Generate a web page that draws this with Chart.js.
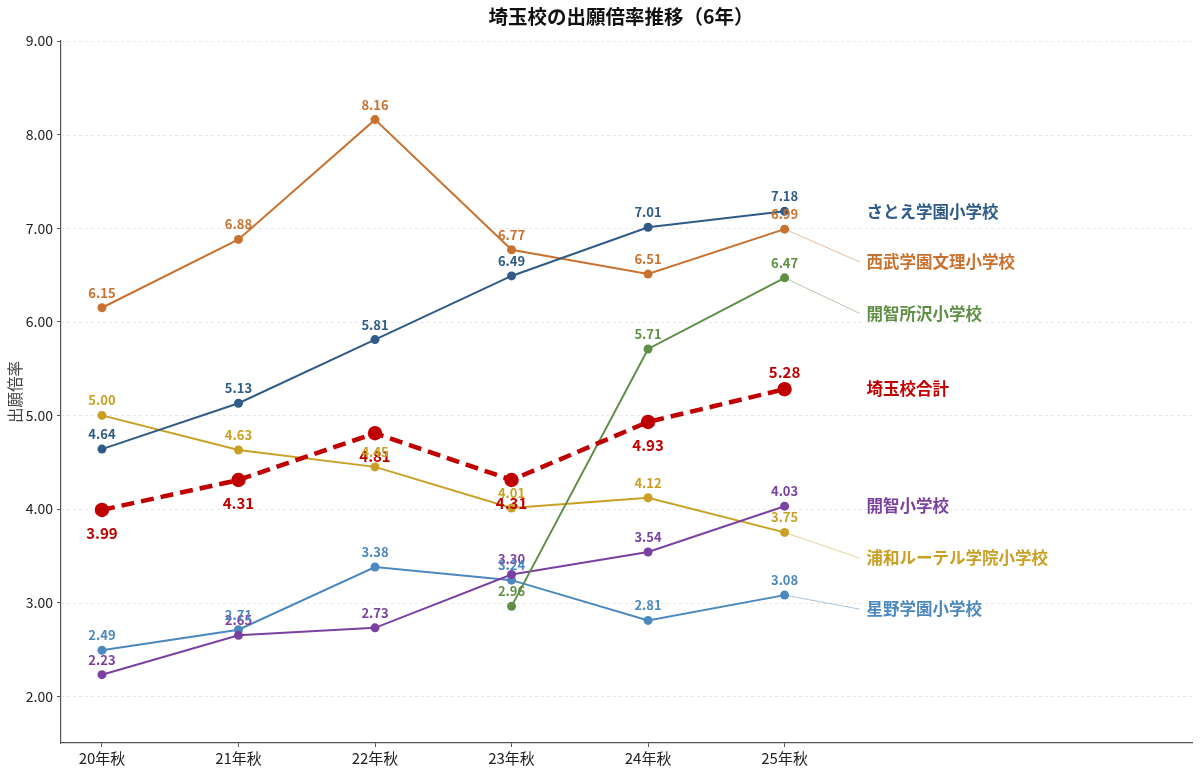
<!DOCTYPE html>
<html><head><meta charset="utf-8">
<script src="https://cdn.jsdelivr.net/npm/chart.js@4.4.1/dist/chart.umd.min.js"></script>
<style>html,body{margin:0;padding:0;background:#fff}#wrap{width:1200px;height:774px;position:relative}</style>
</head><body><div id="wrap"><canvas id="c"></canvas></div>
<script>
// ---- data ----
const categories = ['20年秋','21年秋','22年秋','23年秋','24年秋','25年秋'];
const seriesNames = ['さとえ学園小学校','西武学園文理小学校','開智所沢小学校','埼玉校合計','開智小学校','浦和ルーテル学院小学校','星野学園小学校'];
const satoe = [4.64,5.13,5.81,6.49,7.01,7.18];
const seibu = [6.15,6.88,8.16,6.77,6.51,6.99];
const kaichiTokorozawa = [null,null,null,2.96,5.71,6.47];
const saitamaTotal = [3.99,4.31,4.81,4.31,4.93,5.28];
const kaichi = [2.23,2.65,2.73,3.30,3.54,4.03];
const urawa = [5.00,4.63,4.45,4.01,4.12,3.75];
const hoshino = [2.49,2.71,3.38,3.24,2.81,3.08];
const yTickValues = [2,3,4,5,6,7,8,9];
const chartTitle = '埼玉校の出願倍率推移（6年）';
const yAxisTitle = '出願倍率';

// ---- layout / style (not data) ----
const seriesValues = [satoe, seibu, kaichiTokorozawa, saitamaTotal, kaichi, urawa, hoshino];
const colors = ['#2f5b86','#c9722f','#5e8f45','#c00000','#7b41a1','#c9a024','#4a88bd'];
const endLabelY = [7.18, 6.64, 6.09, 5.28, 4.04, 3.475, 2.93]; // label anchor (value units)
const needsConnector = [false,true,true,false,false,true,true];
const FONT = '"Noto Sans CJK JP","Noto Sans",sans-serif';
const LABEL_X = 5.6, CONNECT_X = 5.55;

const datasets = [];
seriesValues.forEach((vals, i) => {
  const isTotal = i === 3;
  datasets.push({
    label: seriesNames[i],
    data: vals.map((v, k) => ({x: k, y: v})),
    borderColor: colors[i],
    backgroundColor: colors[i],
    pointBackgroundColor: colors[i],
    pointBorderColor: colors[i],
    borderWidth: isTotal ? 4.5 : 2,
    borderDash: isTotal ? [13, 7] : [],
    pointRadius: isTotal ? 7.2 : 4.5,
    pointBorderWidth: 0,
    tension: 0,
    order: isTotal ? 0 : 2,
    _series: i
  });
});
seriesValues.forEach((vals, i) => {
  if (!needsConnector[i]) return;
  const last = vals[vals.length - 1];
  datasets.push({
    label: seriesNames[i] + '_conn',
    data: [{x: vals.length - 1, y: last}, {x: CONNECT_X, y: endLabelY[i]}],
    borderColor: colors[i] + '99',
    borderWidth: 0.8,
    pointRadius: 0,
    order: 3,
    _connector: true
  });
});

const gridPlugin = {
  id: 'dashGrid',
  beforeDatasetsDraw(chart) {
    const {ctx, chartArea, scales} = chart;
    ctx.save();
    ctx.strokeStyle = '#e2e2e2';
    ctx.lineWidth = 0.8;
    ctx.setLineDash([3, 3]);
    yTickValues.forEach(t => {
      const y = Math.round(scales.y.getPixelForValue(t)) + 0.5;
      ctx.beginPath(); ctx.moveTo(chartArea.left, y); ctx.lineTo(chartArea.right, y); ctx.stroke();
    });
    ctx.restore();
  }
};

const labelPlugin = {
  id: 'labels',
  afterDatasetsDraw(chart) {
    const {ctx, scales} = chart;
    ctx.save();
    ctx.textAlign = 'center';
    ctx.textBaseline = 'middle';
    // value labels
    chart.data.datasets.forEach((ds, di) => {
      if (ds._connector) return;
      const i = ds._series;
      const meta = chart.getDatasetMeta(di);
      const isTotal = i === 3;
      ctx.fillStyle = colors[i];
      ctx.font = 'bold ' + (isTotal ? 15 : 13) + 'px ' + FONT;
      meta.data.forEach((pt, k) => {
        const v = seriesValues[i][k];
        if (v === null || v === undefined) return;
        let dy;
        if (isTotal) dy = (k === seriesValues[i].length - 1) ? -17 : 23;
        else dy = -15;
        ctx.fillText(v.toFixed(2), pt.x, pt.y + dy);
      });
    });
    // end labels
    ctx.textAlign = 'left';
    ctx.font = 'bold 16.5px ' + FONT;
    seriesNames.forEach((n, i) => {
      ctx.fillStyle = colors[i];
      ctx.fillText(n, scales.x.getPixelForValue(LABEL_X), scales.y.getPixelForValue(endLabelY[i]));
    });
    // title
    ctx.textAlign = 'center';
    ctx.fillStyle = '#111';
    ctx.font = 'bold 19.5px ' + FONT;
    const ca = chart.chartArea;
    ctx.fillText(chartTitle, (ca.left + ca.right) / 2 - 6, 17);
    ctx.restore();
  }
};

new Chart(document.getElementById('c'), {
  type: 'line',
  data: {datasets},
  options: {
    responsive: true,
    maintainAspectRatio: false,
    animation: false,
    layout: {padding: {top: 41, right: 7, left: 0, bottom: 0}},
    plugins: {legend: {display: false}, tooltip: {enabled: false}, title: {display: false}},
    scales: {
      x: {
        type: 'linear', min: -0.3, max: 7.99,
        afterBuildTicks: s => { s.ticks = categories.map((c, i) => ({value: i})); },
        afterFit: s => { s.height = 31; },
        ticks: {callback: v => categories[v], color: '#222', font: {family: FONT, size: 15}, padding: 2, maxRotation: 0, autoSkip: false},
        grid: {display: true, drawOnChartArea: false, drawTicks: true, tickLength: 4, color: '#555', lineWidth: 1},
        border: {display: true, color: '#555', width: 1.2}
      },
      y: {
        type: 'linear', min: 1.5, max: 9,
        afterBuildTicks: s => { s.ticks = yTickValues.map(v => ({value: v})); },
        afterFit: s => { s.width = 61; },
        ticks: {callback: v => Number(v).toFixed(2), color: '#222', font: {family: FONT, size: 14}, padding: 4},
        grid: {display: true, drawOnChartArea: false, drawTicks: true, tickLength: 4, color: '#555', lineWidth: 1},
        border: {display: true, color: '#555', width: 1.2},
        title: {display: true, text: yAxisTitle, color: '#444', font: {family: FONT, size: 15.5}, padding: {top: 6, bottom: 0}}
      }
    }
  },
  plugins: [gridPlugin, labelPlugin]
});
</script></body></html>
